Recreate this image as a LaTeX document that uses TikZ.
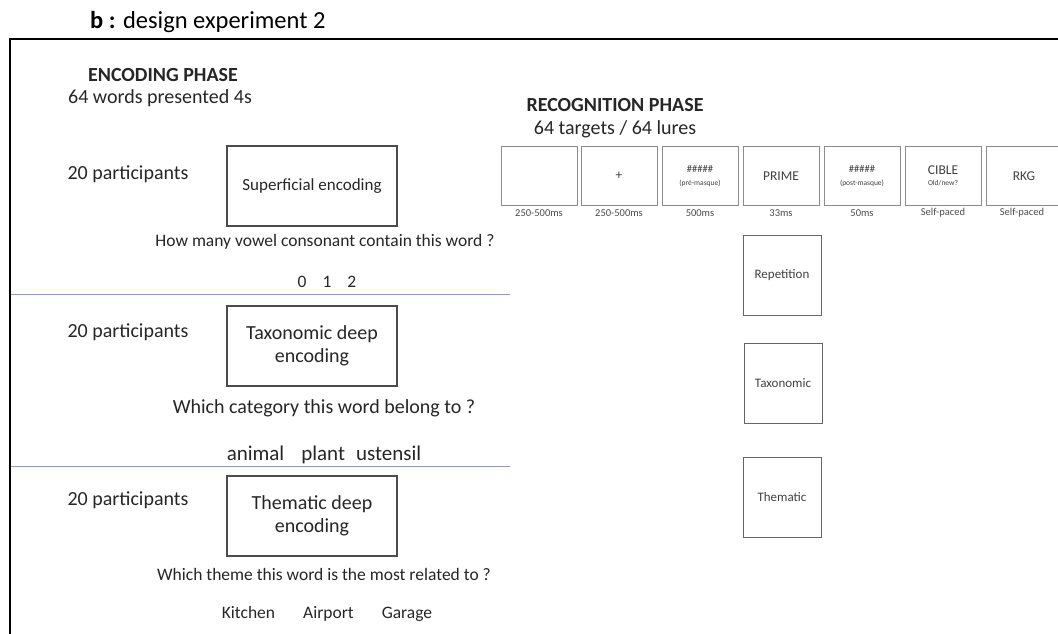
\documentclass[tikz,border=0pt]{standalone}
\usepackage{fontspec}
\setmainfont{Carlito}
\definecolor{sepblue}{RGB}{135,155,220}
\begin{document}
\begin{tikzpicture}[x=1pt,y=-1pt,
  enc/.style={draw=black!70,line width=1.1pt,minimum width=170pt,minimum height=80pt,align=center,inner sep=0pt,font=\fontsize{20}{23}\selectfont,text=black!85},
  txt/.style={inner sep=0pt,anchor=center,font=\fontsize{20}{23}\selectfont,text=black!85},
  qtxt/.style={inner sep=0pt,anchor=center,font=\fontsize{17.5}{20}\selectfont,text=black!85},
  rec/.style={draw=black!45,line width=0.9pt,minimum width=76pt,minimum height=59pt,inner sep=0pt,align=center,font=\fontsize{13.5}{14}\selectfont,text=black!75},
  cue/.style={draw=black!60,line width=0.9pt,minimum width=78pt,minimum height=80pt,inner sep=0pt,font=\fontsize{13}{15}\selectfont,text=black!75},
  lab/.style={inner sep=0pt,font=\fontsize{10.5}{11}\selectfont,text=black!70},
  sep/.style={draw=sepblue,line width=0.8pt}]
\useasboundingbox (0,0) rectangle (1058,634);
% title and frame
\node[txt,font=\fontsize{24.5}{28}\selectfont,text=black,anchor=west] (title) at (90,22) {\textbf{b :} design experiment 2};
\coordinate (fr1) at (10,634);
\coordinate (fr2) at (10,39);
\coordinate (fr3) at (1060,39);
\draw[line width=1.6pt] (fr1) -- (fr2) -- (fr3);
% encoding header
\node[txt,anchor=center] (ench) at (163,75) {\textbf{ENCODING PHASE}};
\node[txt,anchor=center] (encs) at (160,98) {64 words presented 4s};
\node[txt] (rech) at (615,105) {\textbf{RECOGNITION PHASE}};
\node[txt] (recs) at (615,129) {64 targets / 64 lures};
% conditions
\node[txt] (p1) at (128,174) {20 participants};
\node[enc,font=\fontsize{17}{20}\selectfont] (e1) at (312,186) {Superficial encoding};
\node[qtxt] (q1) at (325,242) {How many vowel consonant contain this word ?};
\node[qtxt] (a1) at (327,282) {0\hspace{16pt}1\hspace{16pt}2};
\coordinate (s1a) at (11,294);
\coordinate (s1b) at (510,294);
\draw[sep] (s1a) -- (s1b);
\node[txt] (p2) at (128,332) {20 participants};
\node[enc] (e2) at (312,346) {Taxonomic deep\\encoding};
\node[txt] (q2) at (324,408) {Which category this word belong to ?};
\node[txt,font=\fontsize{21}{24}\selectfont] (a2) at (324,455) {animal\hspace{17pt}plant\hspace{11pt}ustensil};
\coordinate (s2a) at (11,466);
\coordinate (s2b) at (510,466);
\draw[sep] (s2a) -- (s2b);
\node[txt] (p3) at (128,500) {20 participants};
\node[enc] (e3) at (312,516) {Thematic deep\\encoding};
\node[qtxt] (q3) at (324,574) {Which theme this word is the most related to ?};
\node[qtxt] (a3) at (327,614) {Kitchen\hspace{28pt}Airport\hspace{28pt}Garage};
% recognition sequence
\node[rec] (r1) at (539,176) {};
\node[rec] (r2) at (619,176) {+};
\node[rec] (r3) at (700,176) {{\fontsize{10.5}{11}\selectfont\#\#\#\#\#}\\[-1pt]{\fontsize{7.5}{8}\selectfont(pré-masque)}};
\node[rec] (r4) at (781,176) {PRIME};
\node[rec] (r5) at (862,176) {{\fontsize{10.5}{11}\selectfont\#\#\#\#\#}\\[-1pt]{\fontsize{7.5}{8}\selectfont(post-masque)}};
\node[rec] (r6) at (943,176) {CIBLE\\[-3pt]{\fontsize{7.5}{8}\selectfont Old/new?}};
\node[rec] (r7) at (1024,176) {RKG};
\node[lab] (l1) at (539,213) {250-500ms};
\node[lab] (l2) at (619,213) {250-500ms};
\node[lab] (l3) at (700,213) {500ms};
\node[lab] (l4) at (781,213) {33ms};
\node[lab] (l5) at (862,213) {50ms};
\node[lab] (l6) at (943,213) {Self-paced};
\node[lab] (l7) at (1022,213) {Self-paced};
% prime types
\node[cue] (c1) at (782,275) {Repetition};
\node[cue] (c2) at (783,383) {Taxonomic};
\node[cue] (c3) at (782,497) {Thematic};
\end{tikzpicture}
\end{document}
